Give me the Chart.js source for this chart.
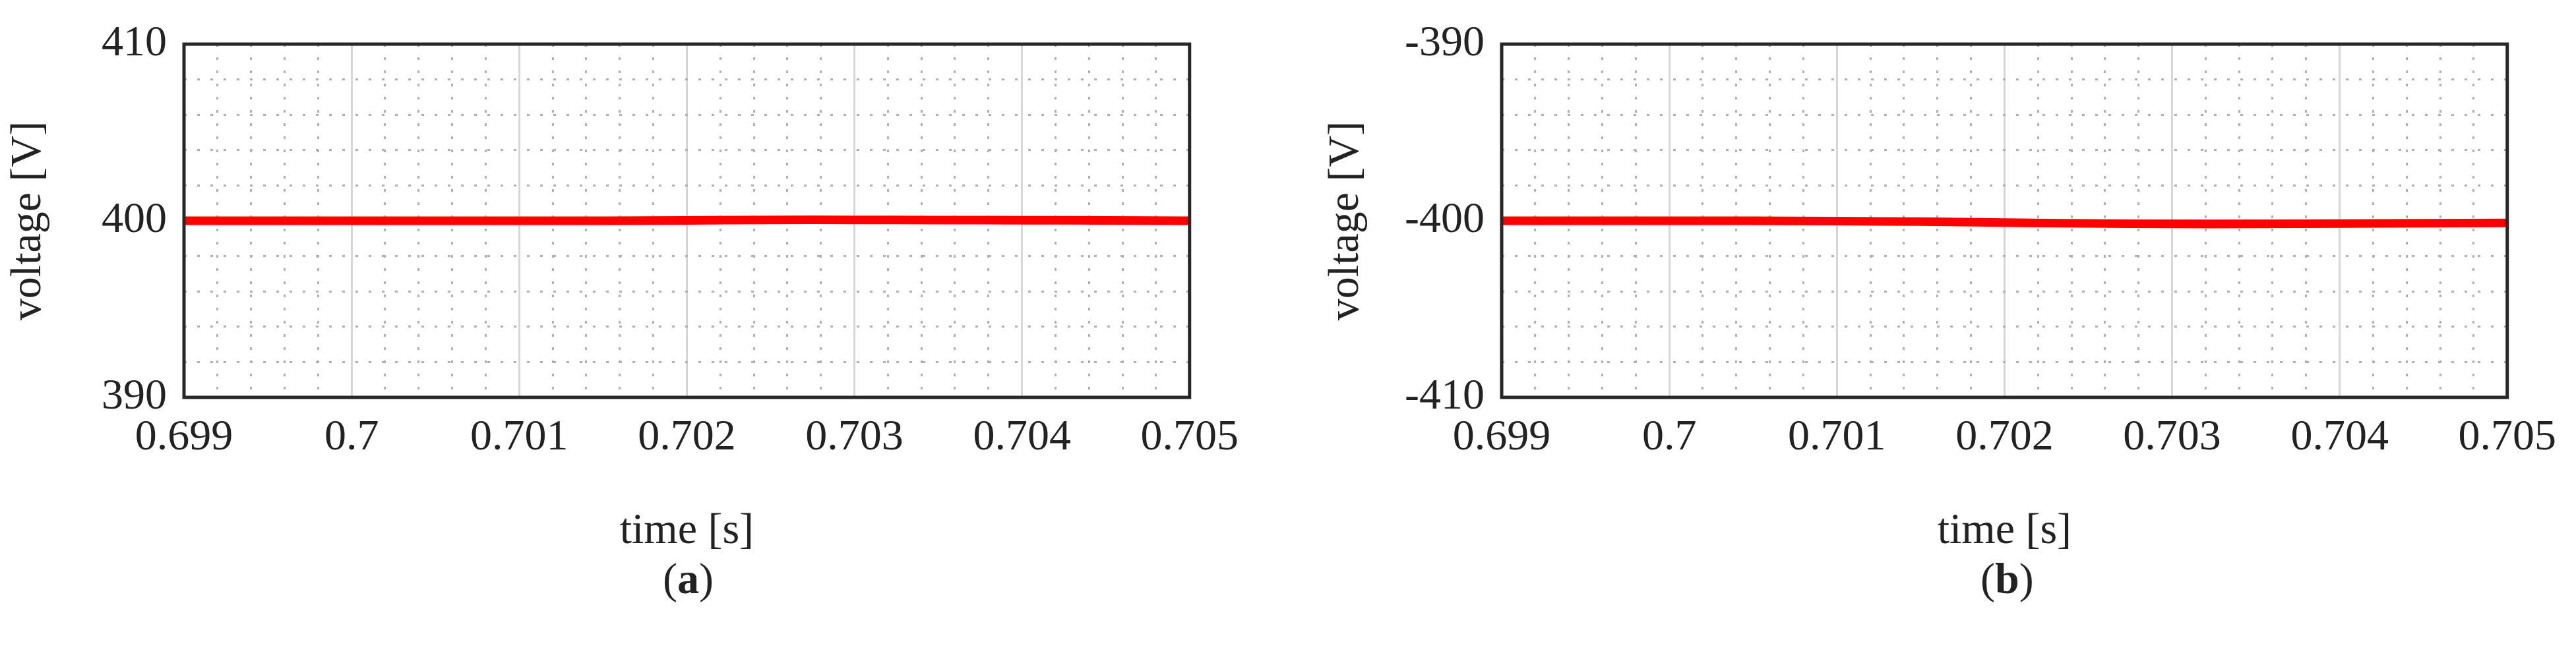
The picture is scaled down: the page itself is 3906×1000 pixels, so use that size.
<!DOCTYPE html>
<html>
<head>
<meta charset="utf-8">
<script src="https://cdn.jsdelivr.net/npm/chart.js@4.4.1/dist/chart.umd.min.js"></script>
<style>
	body { margin: 0; background: #fff; width: 3906px; height: 1000px; position: relative; overflow: hidden; }
	.painel { position: absolute; top: 0; width: 1900px; height: 850px; }
	.rotulo { position: absolute; top: 840px; font: 66px "Liberation Serif", serif; color: #222; }
</style>
</head>
<body>
<div class="painel" style="left:0"><canvas id="grafico-a"></canvas></div>
<div class="painel" style="left:1998px"><canvas id="grafico-b"></canvas></div>
<div class="rotulo" style="left:1005px">(<b>a</b>)</div>
<div class="rotulo" style="left:3003px">(<b>b</b>)</div>
<script>
const tempo = [0.699, 0.6995, 0.7, 0.7005, 0.701, 0.7015, 0.702, 0.7025, 0.703, 0.7035, 0.704, 0.7045, 0.705];
const tensaoPretoA = [400, 400, 400, 400, 400.02, 400.05, 400.08, 400.12, 400.12, 400.1, 400.07, 400.04, 400.02];
const tensaoVermelhoA = [400, 400, 400, 400, 400, 400, 400.02, 400.05, 400.05, 400.04, 400.03, 400.02, 400];
const tensaoPretoB = [-400, -400, -400, -400, -400, -400, -400, -400, -400, -400, -400, -400, -400];
const tensaoVermelhoB = [-400, -400, -400, -400, -400.02, -400.05, -400.1, -400.15, -400.18, -400.18, -400.16, -400.14, -400.12];
const ticksX = [0.699, 0.7, 0.701, 0.702, 0.703, 0.704, 0.705];

const fonte = "'Liberation Serif', serif";
const moldura = {
	id: "moldura",
	afterDraw(chart) {
		const { ctx, chartArea: a } = chart;
		ctx.save();
		ctx.strokeStyle = "#262626";
		ctx.lineWidth = 5;
		ctx.strokeRect(a.left, a.top, a.right - a.left, a.bottom - a.top);
		ctx.restore();
	},
};

function criarGrafico(id, preto, vermelho, yMin, yMax) {
	const pontos = (valores) => valores.map((v, i) => ({ x: tempo[i], y: v }));
	return new Chart(document.querySelector(id), {
		type: "line",
		data: {
			datasets: [
				{ data: pontos(vermelho), borderColor: "#ff0000", borderWidth: 13, pointRadius: 0, tension: 0.3 },
				{ data: pontos(preto), borderColor: "#111", borderWidth: 3, pointRadius: 0, tension: 0.3 },
			],
		},
		options: {
			responsive: true,
			maintainAspectRatio: false,
			animation: false,
			layout: { padding: { top: 67, right: 67, left: 0, bottom: 0 } },
			plugins: { legend: { display: false }, tooltip: { enabled: false } },
			scales: {
				xMenor: {
					type: "linear", position: "bottom", min: 0.699, max: 0.705,
					ticks: { display: false, stepSize: 0.0002 },
					grid: { color: "#b0b0b0", lineWidth: 3, drawTicks: false },
					border: { display: false, dash: [4, 16] },
					afterFit: (s) => { s.height = 0; },
				},
				x: {
					type: "linear", min: 0.699, max: 0.705,
					afterBuildTicks: (s) => { s.ticks = ticksX.map((v) => ({ value: v })); },
					ticks: { color: "#222", font: { family: fonte, size: 66 }, padding: 22, callback: (v) => String(+v.toFixed(3)) },
					grid: { color: "#d6d6d6", lineWidth: 3, drawTicks: false },
					border: { display: false },
					title: { display: true, text: "time [s]", color: "#222", font: { family: fonte, size: 66 }, padding: { top: 30 } },
					afterFit: (s) => { s.height = 247; },
				},
				yMenor: {
					type: "linear", position: "left", min: yMin, max: yMax,
					ticks: { display: false, stepSize: 2 },
					grid: { color: "#b0b0b0", lineWidth: 3, drawTicks: false },
					border: { display: false, dash: [4, 16] },
					afterFit: (s) => { s.width = 0; },
				},
				y: {
					type: "linear", position: "left", min: yMin, max: yMax,
					ticks: { stepSize: 10, color: "#222", font: { family: fonte, size: 66 }, padding: 18 },
					grid: { display: false },
					border: { display: false },
					title: { display: true, text: "voltage [V]", color: "#222", font: { family: fonte, size: 66 }, padding: { bottom: 6 } },
					afterFit: (s) => { s.width = 279; },
				},
			},
		},
		plugins: [moldura],
	});
}

criarGrafico("#grafico-a", tensaoPretoA, tensaoVermelhoA, 390, 410);
criarGrafico("#grafico-b", tensaoPretoB, tensaoVermelhoB, -410, -390);
</script>
</body>
</html>
